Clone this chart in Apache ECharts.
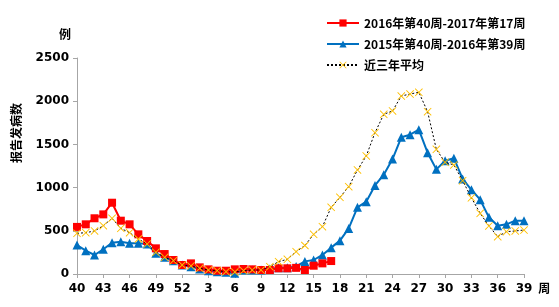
<!DOCTYPE html>
<html>
<head>
<meta charset="utf-8">
<script src="https://cdn.jsdelivr.net/npm/echarts@6/dist/echarts.min.js"></script>
<style>
  html, body { margin: 0; padding: 0; background: #fff; }
  #chart { width: 559px; height: 307px; }
</style>
</head>
<body>
<div id="chart"></div>
<script>
// 周次：第40周 ~ 第52周，再到次年第1 ~ 39周
var weeks = ['40','41','42','43','44','45','46','47','48','49','50','51','52',
  '1','2','3','4','5','6','7','8','9','10','11','12','13','14','15','16','17','18','19','20',
  '21','22','23','24','25','26','27','28','29','30','31','32','33','34','35','36','37','38','39']

var seriesNames = ['2016年第40周-2017年第17周', '2015年第40周-2016年第39周', '近三年平均']

// 2016年第40周 - 2017年第17周（只到第17周）
var season2016 = [545, 575, 645, 690, 825, 617, 575, 459, 382, 297, 231, 162, 104,
  123, 77, 54, 38, 38, 54, 58, 54, 46, 46, 66, 66, 71, 46, 96, 123, 150]

// 2015年第40周 - 2016年第39周
var season2015 = [336, 270, 220, 286, 362, 374, 355, 355, 347, 239, 193, 154, 104,
  85, 58, 38, 27, 20, 8, 46, 46, 46, 58, 73, 73, 88, 146, 162, 220, 305, 386, 528, 772,
  837, 1025, 1150, 1330, 1582, 1612, 1670, 1404, 1211, 1310, 1340, 1100, 975, 860, 656, 559, 575, 617, 617]

// 近三年平均
var avg3y = [471, 478, 498, 559, 645, 529, 478, 405, 347, 251, 193, 154, 104,
  93, 66, 46, 38, 27, 23, 38, 46, 46, 85, 143, 170, 258, 330, 459, 548, 772, 887, 1011, 1204,
  1366, 1636, 1848, 1887, 2060, 2083, 2103, 1879, 1443, 1293, 1262, 1080, 882, 702, 556, 432, 490, 498, 509]

var chart = echarts.init(document.getElementById('chart'))

var fontNum = 'DejaVu Sans'
var fontCn = 'Noto Sans CJK SC'
var xMark = 'path://M0,0.8L0.8,0L5,4.2L9.2,0L10,0.8L5.8,5L10,9.2L9.2,10L5,5.8L0.8,10L0,9.2L4.2,5Z'

var option = {
  backgroundColor: '#ffffff',
  animation: false,
  grid: {
    left: 77,
    right: 35,
    top: 58,
    bottom: 33
  },
  legend: {
    orient: 'vertical',
    left: 321,
    top: 12,
    itemWidth: 32,
    itemHeight: 9,
    itemGap: 9,
    textStyle: {
      fontFamily: fontCn,
      fontWeight: 'bold',
      fontSize: 12,
      color: '#000'
    },
    data: seriesNames
  },
  xAxis: {
    type: 'category',
    data: weeks,
    boundaryGap: false,
    name: '周',
    nameLocation: 'end',
    nameGap: 10,
    nameTextStyle: {
      fontFamily: fontCn,
      fontWeight: 'bold',
      fontSize: 12,
      color: '#000',
      verticalAlign: 'top',
      padding: [8, 0, 0, 0]
    },
    axisLine: { lineStyle: { color: '#a6a6a6', width: 1 } },
    axisTick: { interval: 2, length: 4, lineStyle: { color: '#a6a6a6' } },
    axisLabel: {
      interval: 2,
      margin: 9,
      fontFamily: fontNum,
      fontWeight: 'bold',
      fontSize: 12,
      color: '#000'
    },
    splitLine: { show: false }
  },
  yAxis: {
    type: 'value',
    min: 0,
    max: 2500,
    interval: 500,
    name: '例',
    nameLocation: 'end',
    nameGap: 18,
    nameTextStyle: {
      fontFamily: fontCn,
      fontWeight: 'bold',
      fontSize: 12,
      color: '#000',
      align: 'right',
      padding: [0, 6, 0, 0]
    },
    axisLine: { show: true, lineStyle: { color: '#a6a6a6', width: 1 } },
    axisTick: { show: true, inside: false, length: 4, lineStyle: { color: '#a6a6a6' } },
    axisLabel: {
      margin: 8,
      fontFamily: fontNum,
      fontWeight: 'bold',
      fontSize: 12,
      color: '#000',
      formatter: function (v) { return String(v) }
    },
    splitLine: { show: false }
  },
  graphic: [{
    type: 'text',
    x: 16,
    y: 133,
    rotation: Math.PI / 2,
    style: {
      text: '报告发病数',
      font: 'bold 12px "Noto Sans CJK SC"',
      fill: '#000',
      align: 'center',
      verticalAlign: 'middle'
    }
  }],
  series: [
    {
      name: seriesNames[0],
      type: 'line',
      data: season2016,
      symbol: 'rect',
      symbolSize: 8,
      showAllSymbol: true,
      z: 4,
      lineStyle: { color: '#ff0000', width: 2 },
      itemStyle: { color: '#ff0000' }
    },
    {
      name: seriesNames[1],
      type: 'line',
      data: season2015,
      symbol: 'triangle',
      symbolSize: 9,
      showAllSymbol: true,
      z: 3,
      lineStyle: { color: '#0070c0', width: 2 },
      itemStyle: { color: '#0070c0' }
    },
    {
      name: seriesNames[2],
      type: 'line',
      data: avg3y,
      symbol: xMark,
      symbolSize: 8,
      showAllSymbol: true,
      z: 5,
      lineStyle: { color: '#000000', width: 1, type: [2, 2] },
      itemStyle: { color: '#ffc000' }
    }
  ]
}

chart.setOption(option)
</script>
</body>
</html>
